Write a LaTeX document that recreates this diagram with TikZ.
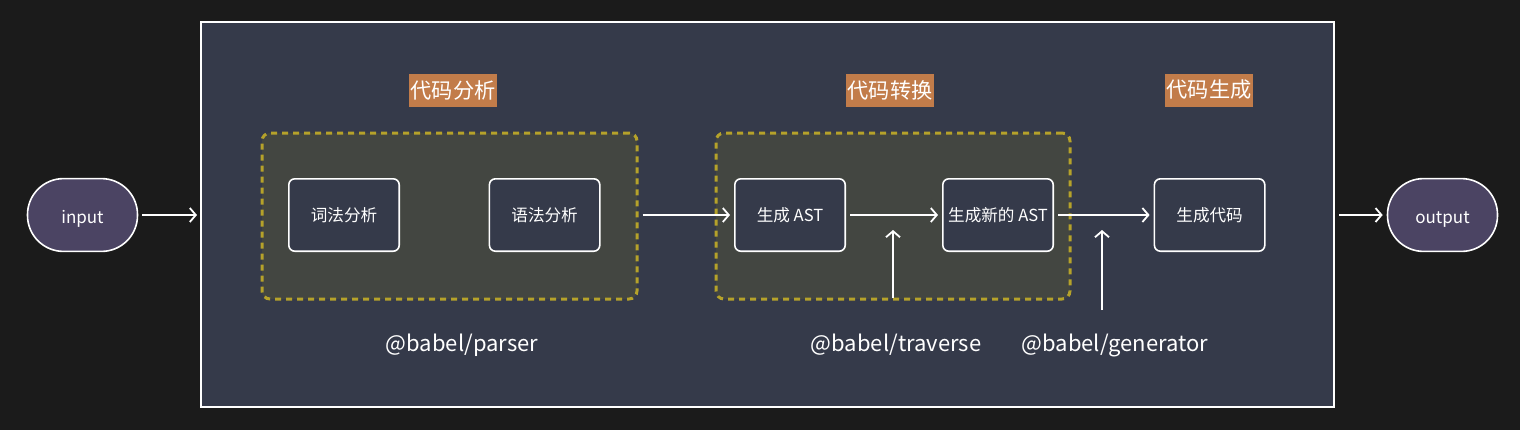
\documentclass[tikz,border=0pt]{standalone}
\usepackage{fontspec}
\setmainfont{Noto Sans CJK SC}
\usepackage{tikz}
\usetikzlibrary{arrows.meta,positioning}
\definecolor{pagebg}{HTML}{1B1B1B}
\definecolor{panelblue}{HTML}{353A4A}
\definecolor{groupgray}{HTML}{434641}
\definecolor{dashyellow}{HTML}{B5A22A}
\definecolor{pillpurple}{HTML}{4B4463}
\definecolor{tagorange}{HTML}{C27C4A}
\tikzset{
  flow/.style={-{Straight Barb[length=3pt,width=7pt]}, line width=0.9pt, draw=white},
  panel/.style={draw=white, line width=1pt, fill=panelblue, inner sep=0pt},
  group/.style={draw=dashyellow, line width=1.5pt, dash pattern=on 3pt off 2.5pt,
                fill=groupgray, rounded corners=4pt, inner sep=0pt},
  stepbox/.style={draw=white, line width=0.8pt, fill=panelblue, rounded corners=3pt,
                  minimum width=55.2pt, minimum height=36.2pt, text=white, inner xsep=1pt,
                  font=\fontsize{8.3}{10}\selectfont},
  pill/.style={draw=white, line width=0.8pt, fill=pillpurple, rounded corners=18pt,
               minimum width=55pt, minimum height=36.4pt, text=white,
               text height=2ex, text depth=0.5ex, font=\fontsize{8.5}{10}\selectfont},
  tag/.style={fill=tagorange, text=white, inner xsep=1pt, inner ysep=0pt,
              minimum height=16.5pt, font=\fontsize{10.6}{12}\selectfont},
  pkg/.style={text=white, font=\fontsize{11}{13}\selectfont}
}

\begin{document}
\begin{tikzpicture}[x=0.5pt, y=-0.5pt, node distance=44.3pt]
  \fill[pagebg] (0,0) rectangle (1520,430);
  \useasboundingbox (0,0) rectangle (1520,430);

  \node[panel, minimum width=566.5pt, minimum height=192.5pt] (main) at (767.5,214.5) {};

  \node[group, minimum width=187.5pt, minimum height=83pt] (analysis) at (449.5,216) {};
  \node[group, minimum width=177pt, minimum height=83pt] (transform) at (893,216) {};

  \node[pill] (input) at (82.5,215) {input};
  \node[pill] (output) at (1442.5,215) {output};

  \node[stepbox] (lexer) at (344,215) {词法分析};
  \node[stepbox, right=of lexer] (parser) {语法分析};
  \node[stepbox] (ast) at (790,215) {生成 AST};
  \node[stepbox, right=48pt of ast] (newast) {生成新的 AST};
  \node[stepbox, right=49.8pt of newast] (gen) {生成代码};

  \node[tag] (tagana) at (453,90) {代码分析};
  \node[tag] (tagtrans) at (890,90) {代码转换};
  \node[tag] (taggen) at (1209,90) {代码生成};

  \node[pkg] (babelparser) at (462,345) {@babel/parser};
  \node[pkg] (babeltrav) at (896,345) {@babel/traverse};
  \node[pkg] (babelgen) at (1115,345) {@babel/generator};

  \coordinate (travfoot) at (893,298);
  \coordinate (travtip) at (893,230);
  \coordinate (genfoot) at (1102,310);
  \coordinate (gentip) at (1102,230);

  \draw[flow] ([xshift=2pt]input.east) -- ([xshift=-1.5pt]main.west |- input.east);
  \draw[flow] ([xshift=2pt]analysis.east |- parser.east) -- ([xshift=-2pt]ast.west);
  \draw[flow] ([xshift=2pt]ast.east) -- ([xshift=-2pt]newast.west);
  \draw[flow] ([xshift=2pt]newast.east) -- ([xshift=-2pt]gen.west);
  \draw[flow] ([xshift=2pt]main.east |- output.west) -- ([xshift=-2pt]output.west);
  \draw[flow] (travfoot) -- (travtip);
  \draw[flow] (genfoot) -- (gentip);
\end{tikzpicture}
\end{document}
